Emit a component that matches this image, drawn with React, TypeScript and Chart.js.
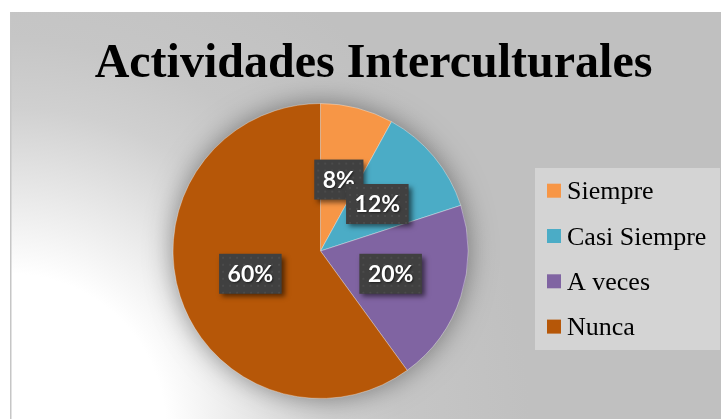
import React, { useEffect, useRef } from "react";
import { Chart, registerables } from "chart.js";

Chart.register(...registerables);

const TITLE = "Actividades Interculturales";
const categories = ["Siempre", "Casi Siempre", "A veces", "Nunca"];
const values = [8, 12, 20, 60];
const colors = ["#F79646", "#4BACC6", "#8064A2", "#B65708"];

const decorPlugin = {
  id: "decor",
  beforeDraw(chart: any) {
    const ctx = chart.ctx as CanvasRenderingContext2D;
    const W = chart.width;
    const H = chart.height;
    ctx.save();
    ctx.fillStyle = "#ffffff";
    ctx.fillRect(0, 0, W, H);
    // background radial gradient
    const g = ctx.createRadialGradient(10, 430, 0, 10, 430, 520);
    g.addColorStop(0, "#ffffff");
    g.addColorStop(0.3, "#ffffff");
    g.addColorStop(0.62, "#d0d0d0");
    g.addColorStop(0.75, "#c6c6c6");
    g.addColorStop(1, "#c0c0c0");
    ctx.fillStyle = g;
    ctx.fillRect(10, 12, W - 10, H - 12);
    // left border
    ctx.fillStyle = "#c6c6c6";
    ctx.fillRect(10, 12, 1.5, H - 12);
    // title
    ctx.fillStyle = "#000000";
    ctx.font = "bold 48px 'Liberation Serif', 'Times New Roman', serif";
    ctx.textAlign = "center";
    ctx.textBaseline = "alphabetic";
    ctx.fillText(TITLE, 373.5, 77);
    // pie shadow
    const meta = chart.getDatasetMeta(0);
    const arc = meta.data[0];
    if (arc) {
      const { x, y, outerRadius } = arc.getProps(["x", "y", "outerRadius"], true);
      ctx.save();
      ctx.shadowColor = "rgba(0,0,0,0.45)";
      ctx.shadowBlur = 28;
      ctx.fillStyle = "#888888";
      ctx.beginPath();
      ctx.arc(x, y, outerRadius - 1, 0, Math.PI * 2);
      ctx.fill();
      ctx.restore();
    }
    // legend
    ctx.fillStyle = "#d4d4d4";
    ctx.fillRect(535, 168, W - 535 - 1, 182);
    ctx.font = "26px 'Liberation Serif', 'Times New Roman', serif";
    ctx.textAlign = "left";
    categories.forEach((label, i) => {
      const cy = 190.7 + i * 45.3;
      ctx.fillStyle = colors[i];
      ctx.fillRect(547, cy - 7, 14, 14);
      ctx.fillStyle = "#000000";
      ctx.fillText(label, 567, cy + 8.5);
    });
    ctx.restore();
  },
  afterDatasetsDraw(chart: any) {
    const ctx = chart.ctx as CanvasRenderingContext2D;
    const meta = chart.getDatasetMeta(0);
    const ds = chart.data.datasets[0];
    const total = (ds.data as number[]).reduce((a, b) => a + b, 0);
    ctx.save();
    ctx.font = "bold 23px Lato, 'Open Sans', sans-serif";
    meta.data.forEach((el: any, i: number) => {
      const v = ds.data[i] as number;
      const text = Math.round((v / total) * 100) + "%";
      const p = el.tooltipPosition(true);
      const tw = ctx.measureText(text).width;
      const bw = tw + 17;
      const bh = 40;
      const bx = p.x - bw / 2;
      const by = p.y - bh / 2;
      ctx.save();
      ctx.shadowColor = "rgba(0,0,0,0.55)";
      ctx.shadowBlur = 5;
      ctx.shadowOffsetX = 3;
      ctx.shadowOffsetY = 3;
      ctx.fillStyle = "#404040";
      ctx.fillRect(bx, by, bw, bh);
      ctx.restore();
      // subtle dotted texture
      ctx.save();
      ctx.beginPath();
      ctx.rect(bx, by, bw, bh);
      ctx.clip();
      ctx.fillStyle = "rgba(255,255,255,0.06)";
      for (let yy = by + 3; yy < by + bh; yy += 7) {
        for (let xx = bx + 3; xx < bx + bw; xx += 7) {
          ctx.fillRect(xx, yy, 2, 2);
        }
      }
      ctx.restore();
      ctx.save();
      ctx.shadowColor = "rgba(0,0,0,0.5)";
      ctx.shadowBlur = 2;
      ctx.shadowOffsetX = 1;
      ctx.shadowOffsetY = 1;
      ctx.fillStyle = "#ffffff";
      ctx.textAlign = "center";
      ctx.textBaseline = "middle";
      ctx.fillText(text, p.x, p.y + 1);
      ctx.restore();
    });
    ctx.restore();
  },
};

export default function App() {
  const ref = useRef<HTMLCanvasElement | null>(null);
  useEffect(() => {
    if (!ref.current) return;
    const chart = new Chart(ref.current, {
      type: "pie",
      data: {
        labels: categories,
        datasets: [
          {
            data: values,
            backgroundColor: colors,
            borderColor: "rgba(255,255,255,0.35)",
            borderWidth: 1,
          },
        ],
      },
      options: {
        responsive: false,
        animation: false,
        layout: { padding: { left: 172.5, right: 252.5, top: 103, bottom: 20 } },
        plugins: {
          legend: { display: false },
          title: { display: false },
          tooltip: { enabled: false },
        },
      },
      plugins: [decorPlugin],
    });
    return () => chart.destroy();
  }, []);
  return (
    <div style={{ position: "fixed", left: 0, top: 0, width: 721, height: 419 }}>
      <canvas ref={ref} width={721} height={419} style={{ width: 721, height: 419 }} />
    </div>
  );
}
